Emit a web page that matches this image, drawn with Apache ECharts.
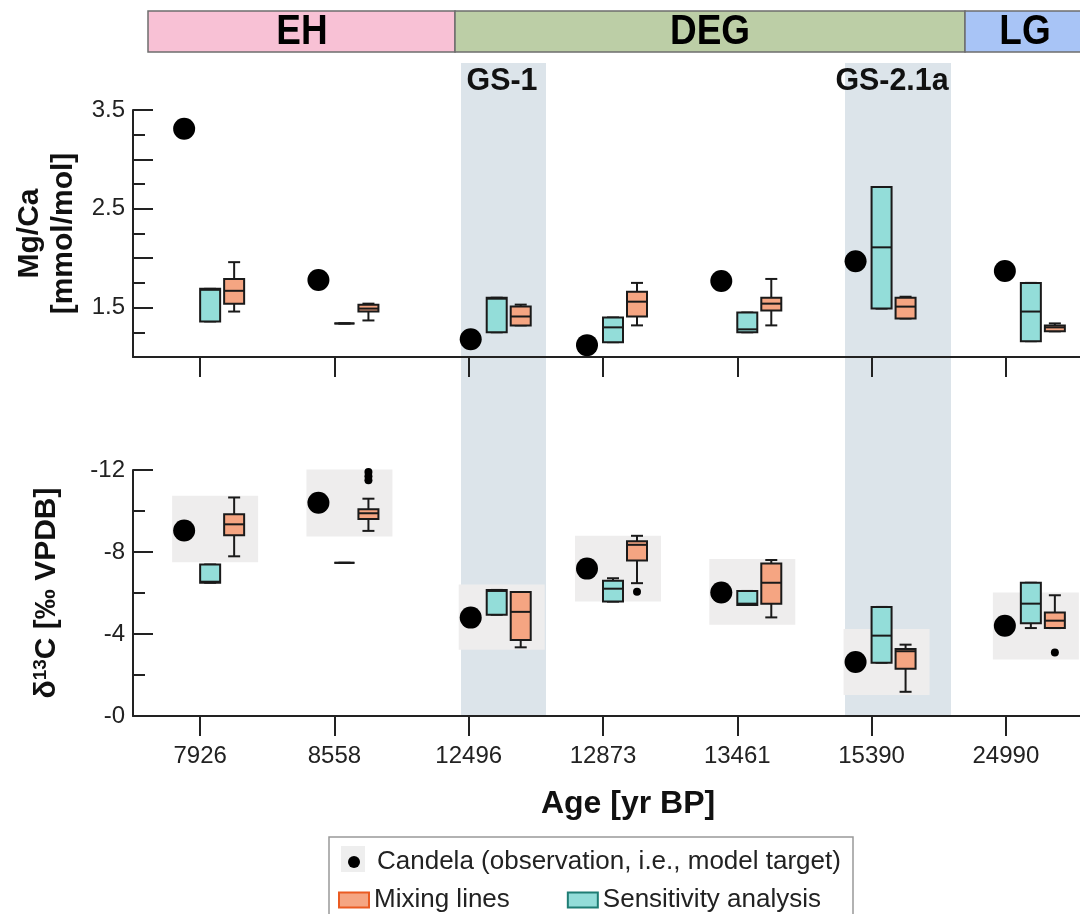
<!DOCTYPE html>
<html lang="en">
<head>
    <meta charset="UTF-8" />
    <title>Mg/Ca and d13C vs age</title>
    <script src="https://cdn.jsdelivr.net/npm/echarts@6/dist/echarts.min.js"></script>
</head>
<body style="margin:0;background:#fff">
<div id="main" style="width:1080px;height:914px"></div>
<script type="text/javascript">
    // categories (age, yr BP)
    var ages = ['7926', '8558', '12496', '12873', '13461', '15390', '24990'];

    // Mg/Ca panel
    var mgCandela = [3.31, 1.78, 1.18, 1.12, 1.77, 1.97, 1.87];
    // [min, q1, median, q3, max]
    var mgSens = [
        [1.36, 1.36, 1.68, 1.69, 1.69],
        [1.34, 1.34, 1.34, 1.34, 1.34],
        [1.25, 1.25, 1.59, 1.60, 1.60],
        [1.15, 1.15, 1.30, 1.40, 1.40],
        [1.25, 1.25, 1.28, 1.45, 1.45],
        [1.49, 1.49, 2.11, 2.72, 2.72],
        [1.16, 1.16, 1.46, 1.75, 1.75]
    ];
    var mgMix = [
        [1.46, 1.54, 1.67, 1.79, 1.96],
        [1.37, 1.46, 1.49, 1.53, 1.54],
        [1.32, 1.32, 1.41, 1.51, 1.53],
        [1.32, 1.41, 1.56, 1.66, 1.75],
        [1.32, 1.47, 1.54, 1.60, 1.79],
        [1.39, 1.39, 1.51, 1.60, 1.61],
        [1.26, 1.26, 1.30, 1.32, 1.34]
    ];

    // d13C panel
    var dcCandela = [-9.05, -10.4, -4.8, -7.19, -6.02, -2.63, -4.4];
    var dcSens = [
        [-7.39, -7.39, -6.55, -6.5, -6.5],
        [-7.47, -7.47, -7.47, -7.47, -7.47],
        [-6.15, -6.15, -6.1, -4.94, -4.94],
        [-6.72, -6.6, -6.21, -5.58, -5.58],
        [-6.1, -6.1, -5.48, -5.42, -5.42],
        [-5.32, -5.32, -3.92, -2.6, -2.6],
        [-6.5, -6.5, -5.48, -4.52, -4.29]
    ];
    var dcMix = [
        [-10.66, -9.84, -9.35, -8.82, -7.79],
        [-10.6, -10.08, -9.89, -9.61, -9.03],
        [-6.05, -6.05, -5.08, -3.71, -3.35],
        [-8.79, -8.52, -8.35, -7.58, -6.48],
        [-7.61, -7.44, -6.5, -5.48, -4.81],
        [-3.48, -3.27, -3.16, -2.31, -1.18],
        [-5.89, -5.05, -4.65, -4.29, -4.29]
    ];
    var dcOutliers = [[1, -11.9], [1, -11.7], [1, -11.5], [3, -6.06], [6, -3.1]];
    // grey target range behind each group [upper, lower]
    var dcRange = [
        [-10.74, -7.5],
        [-12.03, -8.76],
        [-6.42, -3.23],
        [-8.79, -5.58],
        [-7.66, -4.45],
        [-4.24, -1.02],
        [-6.02, -2.76]
    ];

    // layout: horizontal nudge (px) of each group of marks inside its category
    var groupShift = [0, 0, 18, 0, 0, 0, 15];
    var DOT_OFF = -16, SENS_OFF = 10, MIX_OFF = 34;

    var FONT = "'Liberation Sans', Arial, sans-serif";
    var TEAL = '#93ddd9', ORANGE = '#f5a582';
    var CANDELA = 'Candela (observation, i.e., model target)';

    function withIndex(rows) {
        return rows.map(function (r, i) { return [i].concat(r); });
    }

    function dotData(vals) {
        return vals.map(function (v, i) {
            return {value: [i, v], symbolOffset: [DOT_OFF + groupShift[i], 0]};
        });
    }

    function boxRenderer(offset, fill) {
        return function (params, api) {
            var i = api.value(0);
            var cx = api.coord([i, api.value(3)])[0] + offset + groupShift[i];
            var yMin = api.coord([i, api.value(1)])[1];
            var yQ1 = api.coord([i, api.value(2)])[1];
            var yMed = api.coord([i, api.value(3)])[1];
            var yQ3 = api.coord([i, api.value(4)])[1];
            var yMax = api.coord([i, api.value(5)])[1];
            var hw = 10, cw = 6;
            var ls = {stroke: '#1a1a1a', lineWidth: 2};
            return {
                type: 'group',
                children: [
                    {type: 'line', shape: {x1: cx, y1: yMin, x2: cx, y2: yQ1}, style: ls},
                    {type: 'line', shape: {x1: cx, y1: yQ3, x2: cx, y2: yMax}, style: ls},
                    {type: 'line', shape: {x1: cx - cw, y1: yMin, x2: cx + cw, y2: yMin}, style: ls},
                    {type: 'line', shape: {x1: cx - cw, y1: yMax, x2: cx + cw, y2: yMax}, style: ls},
                    {type: 'rect', shape: {x: cx - hw, y: Math.min(yQ1, yQ3), width: 2 * hw, height: Math.abs(yQ3 - yQ1)},
                        style: {fill: fill, stroke: '#1a1a1a', lineWidth: 2}},
                    {type: 'line', shape: {x1: cx - hw, y1: yMed, x2: cx + hw, y2: yMed}, style: ls}
                ]
            };
        };
    }

    function rangeRenderer(params, api) {
        var i = api.value(0);
        var x = api.coord([i, api.value(1)])[0] + groupShift[i];
        var y1 = api.coord([i, api.value(1)])[1];
        var y2 = api.coord([i, api.value(2)])[1];
        return {
            type: 'rect',
            shape: {x: x - 28, y: Math.min(y1, y2), width: 86, height: Math.abs(y2 - y1)},
            style: {fill: '#eeeded'}
        };
    }

    function xAxisCfg(gridIndex, showLabel) {
        return {
            type: 'category', gridIndex: gridIndex, data: ages,
            axisLine: {show: true, lineStyle: {color: '#222', width: 2}},
            axisTick: {show: true, alignWithLabel: true, length: 20, lineStyle: {color: '#222', width: 2}},
            axisLabel: {show: showLabel, fontSize: 24, color: '#222', fontFamily: FONT, margin: 28},
            splitLine: {show: false}
        };
    }

    function periodText(txt, x) {
        return {type: 'text', x: x, y: 32, scaleX: 0.88,
            style: {text: txt, align: 'center', verticalAlign: 'middle', fontSize: 42, fontWeight: 'bold', fontFamily: FONT, fill: '#000'}};
    }

    function gsText(txt, x) {
        return {type: 'text', x: x, y: 81, scaleX: 0.95,
            style: {text: txt, align: 'center', verticalAlign: 'middle', fontSize: 32, fontWeight: 'bold', fontFamily: FONT, fill: '#111'}};
    }

    var myChart = echarts.init(document.getElementById('main'));
    var option = {
        animation: false,
        backgroundColor: '#fff',
        grid: [
            {left: 133, right: 7, top: 110, height: 247},
            {left: 133, right: 7, top: 470, height: 246}
        ],
        xAxis: [xAxisCfg(0, false), xAxisCfg(1, true)],
        yAxis: [
            {
                type: 'value', gridIndex: 0, min: 1, max: 3.5, interval: 0.5,
                name: 'Mg/Ca\n[mmol/mol]', nameLocation: 'middle', nameRotate: 90, nameGap: 46,
                nameTextStyle: {fontSize: 30, fontWeight: 'bold', color: '#111', fontFamily: FONT, lineHeight: 34},
                axisLine: {show: true, lineStyle: {color: '#222', width: 2}},
                axisTick: {show: true, inside: true, length: 20, lineStyle: {color: '#222', width: 2}},
                minorTick: {show: true, splitNumber: 2, length: 12, lineStyle: {color: '#222', width: 2}},
                axisLabel: {
                    fontSize: 24, color: '#222', fontFamily: FONT, margin: 8,
                    formatter: function (v) { return Math.abs(v % 1 - 0.5) < 1e-6 ? v.toFixed(1) : ''; }
                },
                splitLine: {show: false}
            },
            {
                type: 'value', gridIndex: 1, min: -12, max: 0, interval: 4, inverse: true,
                name: '{n|δ}{s|13}{n|C [‰ VPDB]}', nameLocation: 'middle', nameRotate: 90, nameGap: 70,
                nameTextStyle: {
                    color: '#111', fontFamily: FONT,
                    rich: {
                        n: {fontSize: 30, fontWeight: 'bold', fontFamily: FONT, color: '#111', lineHeight: 32},
                        s: {fontSize: 19, fontWeight: 'bold', fontFamily: FONT, color: '#111', lineHeight: 32, verticalAlign: 'top'}
                    }
                },
                axisLine: {show: true, lineStyle: {color: '#222', width: 2}},
                axisTick: {show: true, inside: true, length: 20, lineStyle: {color: '#222', width: 2}},
                minorTick: {show: true, splitNumber: 2, length: 12, lineStyle: {color: '#222', width: 2}},
                axisLabel: {
                    fontSize: 24, color: '#222', fontFamily: FONT, margin: 8,
                    formatter: function (v) { return v === 0 ? '-0' : String(v); }
                },
                splitLine: {show: false}
            }
        ],
        legend: [
            {
                left: 343, top: 844, selectedMode: false, itemWidth: 12, itemHeight: 12,
                textStyle: {fontSize: 26, color: '#222', fontFamily: FONT, padding: [0, 0, 0, 12]},
                data: [{name: CANDELA, icon: 'circle', itemStyle: {color: '#000'}}]
            },
            {
                left: 333, top: 882, selectedMode: false, itemWidth: 30, itemHeight: 15, itemGap: 57,
                textStyle: {fontSize: 26, color: '#222', fontFamily: FONT},
                data: [
                    {name: 'Mixing lines', icon: 'rect', itemStyle: {color: ORANGE, borderColor: '#ea5b22', borderWidth: 2}},
                    {name: 'Sensitivity analysis', icon: 'rect', itemStyle: {color: TEAL, borderColor: '#1f7d74', borderWidth: 2}}
                ]
            }
        ],
        graphic: [
            // glacial stadial bands
            {type: 'rect', z: -10, silent: true, shape: {x: 461, y: 63, width: 85, height: 653}, style: {fill: '#dce4ea'}},
            {type: 'rect', z: -10, silent: true, shape: {x: 845, y: 63, width: 106, height: 653}, style: {fill: '#dce4ea'}},
            gsText('GS-1', 502),
            gsText('GS-2.1a', 892),
            // period bar
            {type: 'rect', shape: {x: 148, y: 11, width: 307, height: 41}, style: {fill: '#f8c1d5', stroke: '#6e6e6e', lineWidth: 1.5}},
            {type: 'rect', shape: {x: 455, y: 11, width: 510, height: 41}, style: {fill: '#bccea6', stroke: '#6e6e6e', lineWidth: 1.5}},
            {type: 'rect', shape: {x: 965, y: 11, width: 120, height: 41}, style: {fill: '#a8c4f6', stroke: '#6e6e6e', lineWidth: 1.5}},
            periodText('EH', 302),
            periodText('DEG', 710),
            periodText('LG', 1025),
            // axis lines run on to the page edge
            {type: 'line', shape: {x1: 1072, y1: 357, x2: 1080, y2: 357}, style: {stroke: '#222', lineWidth: 2}},
            {type: 'line', shape: {x1: 1072, y1: 716, x2: 1080, y2: 716}, style: {stroke: '#222', lineWidth: 2}},
            // x axis title
            {type: 'text', x: 628, y: 804, style: {text: 'Age [yr BP]', align: 'center', verticalAlign: 'middle', fontSize: 32, fontWeight: 'bold', fontFamily: FONT, fill: '#111'}},
            // legend frame
            {type: 'rect', z: -5, shape: {x: 329, y: 837, width: 524, height: 80}, style: {fill: '#fff', stroke: '#999', lineWidth: 1.5}},
            {type: 'rect', z: -4, shape: {x: 341, y: 846, width: 24, height: 26}, style: {fill: '#eeeeee'}}
        ],
        series: [
            {
                name: 'Sensitivity analysis', type: 'custom', xAxisIndex: 0, yAxisIndex: 0, z: 3,
                itemStyle: {color: TEAL},
                renderItem: boxRenderer(SENS_OFF, TEAL), encode: {x: 0, y: [1, 2, 3, 4, 5]},
                data: withIndex(mgSens)
            },
            {
                name: 'Mixing lines', type: 'custom', xAxisIndex: 0, yAxisIndex: 0, z: 3,
                itemStyle: {color: ORANGE},
                renderItem: boxRenderer(MIX_OFF, ORANGE), encode: {x: 0, y: [1, 2, 3, 4, 5]},
                data: withIndex(mgMix)
            },
            {
                name: CANDELA, type: 'scatter', xAxisIndex: 0, yAxisIndex: 0, z: 4,
                symbolSize: 22, itemStyle: {color: '#000', opacity: 1},
                data: dotData(mgCandela)
            },
            {
                name: 'range', type: 'custom', xAxisIndex: 1, yAxisIndex: 1, z: 1, silent: true,
                renderItem: rangeRenderer, encode: {x: 0, y: [1, 2]},
                data: withIndex(dcRange)
            },
            {
                name: 'Sensitivity analysis', type: 'custom', xAxisIndex: 1, yAxisIndex: 1, z: 3,
                itemStyle: {color: TEAL},
                renderItem: boxRenderer(SENS_OFF, TEAL), encode: {x: 0, y: [1, 2, 3, 4, 5]},
                data: withIndex(dcSens)
            },
            {
                name: 'Mixing lines', type: 'custom', xAxisIndex: 1, yAxisIndex: 1, z: 3,
                itemStyle: {color: ORANGE},
                renderItem: boxRenderer(MIX_OFF, ORANGE), encode: {x: 0, y: [1, 2, 3, 4, 5]},
                data: withIndex(dcMix)
            },
            {
                name: CANDELA, type: 'scatter', xAxisIndex: 1, yAxisIndex: 1, z: 4,
                symbolSize: 22, itemStyle: {color: '#000', opacity: 1},
                data: dotData(dcCandela)
            },
            {
                name: 'outliers', type: 'scatter', xAxisIndex: 1, yAxisIndex: 1, z: 4,
                symbolSize: 8, itemStyle: {color: '#000', opacity: 1},
                data: dcOutliers.map(function (p) {
                    return {value: p, symbolOffset: [MIX_OFF + groupShift[p[0]], 0]};
                })
            }
        ]
    };
    myChart.setOption(option);
</script>
</body>
</html>
